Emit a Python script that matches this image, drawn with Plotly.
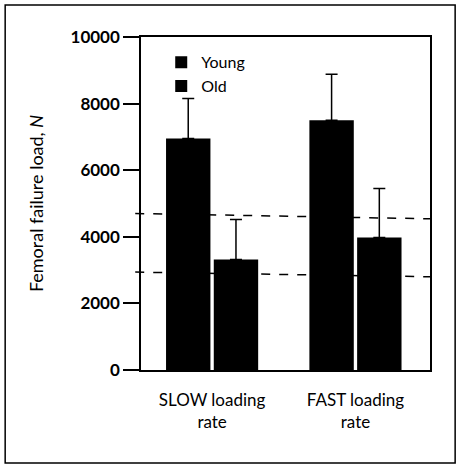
import plotly.graph_objects as go

categories = ["SLOW loading<br>rate", "FAST loading<br>rate"]
young_mean = [6950, 7500]
young_err = [1200, 1380]
old_mean = [3320, 3980]
old_err = [1200, 1470]
threshold_upper = [4700, 4540]
threshold_lower = [2940, 2800]
y_ticks = [0, 2000, 4000, 6000, 8000, 10000]
y_tick_labels = ["0", "2000", "4000", "6000", "8000", "10000"]

fig = go.Figure()
fig.add_trace(go.Bar(
    name="Young", x=categories, y=young_mean,
    marker=dict(color="black", line=dict(width=0)),
    error_y=dict(type="data", symmetric=False, array=young_err,
                 arrayminus=[0, 0], color="black", thickness=1.5, width=6),
))
fig.add_trace(go.Bar(
    name="Old", x=categories, y=old_mean,
    marker=dict(color="black", line=dict(width=0)),
    error_y=dict(type="data", symmetric=False, array=old_err,
                 arrayminus=[0, 0], color="black", thickness=1.5, width=6),
))

for vals in (threshold_upper, threshold_lower):
    fig.add_shape(type="line", xref="paper", yref="y",
                  x0=-0.02, x1=1.0, y0=vals[0], y1=vals[1],
                  line=dict(color="black", width=1.5, dash="dash"))

# outer frame of the figure panel
fig.add_shape(type="rect", xref="paper", yref="paper",
              x0=-0.47, x1=1.087, y0=-0.279, y1=1.096,
              line=dict(color="black", width=1.5))

fig.update_layout(
    width=461, height=470,
    margin=dict(l=141, r=31, t=37, b=100),
    paper_bgcolor="white", plot_bgcolor="white",
    barmode="group", bargap=0.334, bargroupgap=0.07,
    font=dict(family="Lato, Open Sans, sans-serif", color="black"),
    showlegend=True,
    legend=dict(x=0.07, y=0.975, xanchor="left", yanchor="top",
                bgcolor="rgba(0,0,0,0)", font=dict(size=16),
                itemwidth=30, tracegroupgap=0),
    xaxis=dict(range=[-0.496, 1.52], showline=True, linecolor="black",
               linewidth=1.5, mirror=True, ticks="", showgrid=False,
               tickfont=dict(size=17), zeroline=False,
               ticklabelstandoff=14),
    yaxis=dict(range=[0, 10000], tickvals=y_ticks, ticktext=y_tick_labels,
               showline=True,
               linecolor="black", linewidth=1.5, mirror=True,
               ticks="outside", ticklen=16, tickwidth=1.5, tickcolor="black",
               showgrid=False, zeroline=False,
               tickfont=dict(size=17, weight="bold"),
               title=dict(text="Femoral failure load, <i>N</i>",
                          font=dict(size=18), standoff=22)),
)

fig.write_html("out.html")
